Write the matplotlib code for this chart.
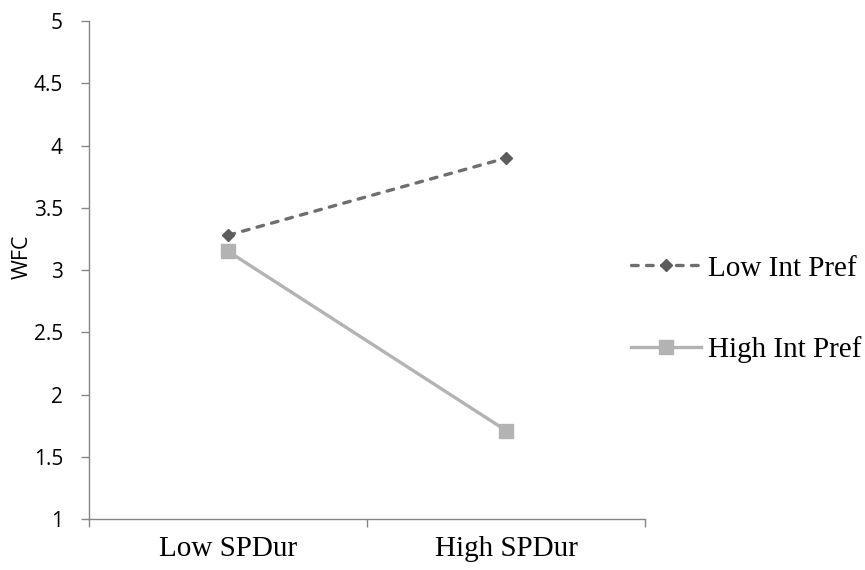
import matplotlib
matplotlib.use("Agg")
import matplotlib.pyplot as plt

categories = ["Low SPDur", "High SPDur"]
series_names = ["Low Int Pref", "High Int Pref"]
low_int_pref = [3.28, 3.90]
high_int_pref = [3.15, 1.71]
y_ticks = [1, 1.5, 2, 2.5, 3, 3.5, 4, 4.5, 5]
y_tick_labels = ["1", "1.5", "2", "2.5", "3", "3.5", "4", "4.5", "5"]

fig = plt.figure(figsize=(8.65, 5.70), dpi=100)
ax = fig.add_axes([0.103, 0.0895, 0.643, 0.8735])

x = list(range(len(categories)))
dark = "#6e6e6e"
dark_marker = "#5c5c5c"
light = "#b3b3b3"
l1, = ax.plot(x, low_int_pref, color=dark, linestyle=(0, (2.0, 2.5)), linewidth=2.4,
              dash_capstyle="round",
              marker="D", markersize=6.6, markerfacecolor=dark_marker, markeredgecolor=dark_marker,
              label=series_names[0], zorder=3)
l2, = ax.plot(x, high_int_pref, color=light, linestyle="-", linewidth=2.4,
              marker="s", markersize=10, markerfacecolor=light, markeredgecolor=light,
              label=series_names[1], zorder=3)

ax.set_xlim(-0.5, 1.5)
ax.set_ylim(1, 5)
ax.set_yticks(y_ticks)
ax.set_yticklabels(y_tick_labels, fontfamily="Open Sans", fontsize=15)
ax.set_xticks(x)
ax.set_xticklabels(categories, fontfamily="Liberation Serif", fontsize=21)
ax.set_xticks([-0.5, 0.5, 1.5], minor=True)
ax.tick_params(axis="x", which="major", length=0, pad=12)
ax.tick_params(axis="x", which="minor", length=6, color="#868686", width=1)
ax.tick_params(axis="y", length=5.8, color="#868686", width=1, pad=13)

ax.set_ylabel("WFC", fontfamily="Open Sans", fontsize=15.5)
ax.yaxis.set_label_coords(-0.102, 0.526)

for side in ["top", "right"]:
    ax.spines[side].set_visible(False)
for side in ["left", "bottom"]:
    ax.spines[side].set_color("#868686")
    ax.spines[side].set_linewidth(1)

fig.legend(handles=[l1, l2], loc="center left", bbox_to_anchor=(0.729, 0.4576),
           frameon=False, prop={"family": "Liberation Serif", "size": 21},
           handlelength=2.4, handletextpad=0.25, labelspacing=1.87,
           borderpad=0, borderaxespad=0)

fig.savefig("out.png", dpi=100)
